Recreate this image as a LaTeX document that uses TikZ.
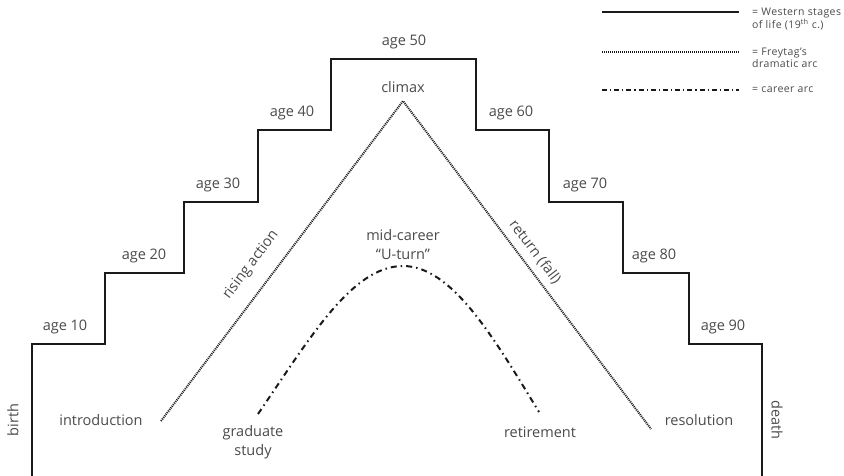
\documentclass[tikz,border=0pt]{standalone}
\usepackage{fontspec}
\setmainfont{Open Sans}
\definecolor{txt}{HTML}{4A4A4A}
\definecolor{ln}{HTML}{1A1A1A}
\tikzset{
  lbl/.style={font=\fontsize{14.5}{19}\selectfont, text=txt, inner sep=1pt},
  leg/.style={font=\fontsize{10.5}{12.5}\selectfont\addfontfeatures{LetterSpace=4}, text=txt, inner sep=0pt, anchor=west, align=left},
  stair/.style={draw=ln, line width=2.4pt, line join=miter},
  freytag/.style={draw=ln, line width=2pt, dash pattern=on 1pt off 1pt},
  career/.style={draw=ln, line width=2pt, dash pattern=on 6pt off 4pt on 1.5pt off 4pt},
}
\begin{document}
\begin{tikzpicture}[x=1pt,y=-1pt]
\useasboundingbox (0,0) rectangle (844,475);
% staircase corners
\coordinate (s0) at (32,476);
\coordinate (s1) at (32,344);
\coordinate (s2) at (105,344);
\coordinate (s3) at (105,273);
\coordinate (s4) at (184,273);
\coordinate (s5) at (184,202);
\coordinate (s6) at (258,202);
\coordinate (s7) at (258,130);
\coordinate (s8) at (331,130);
\coordinate (s9) at (331,59);
\coordinate (t9) at (476,59);
\coordinate (t8) at (476,130);
\coordinate (t7) at (549,130);
\coordinate (t6) at (549,202);
\coordinate (t5) at (623,202);
\coordinate (t4) at (623,273);
\coordinate (t3) at (689,273);
\coordinate (t2) at (689,344);
\coordinate (t1) at (762,344);
\coordinate (t0) at (762,476);
\draw[stair] (s0)--(s1)--(s2)--(s3)--(s4)--(s5)--(s6)--(s7)--(s8)--(s9)--(t9)--(t8)--(t7)--(t6)--(t5)--(t4)--(t3)--(t2)--(t1)--(t0);

% age labels
\node[lbl] (a10) at (65,327) {age 10};
\node[lbl] (a20) at (144,256) {age 20};
\node[lbl] (a30) at (218,185) {age 30};
\node[lbl] (a40) at (292,113) {age 40};
\node[lbl] (a50) at (404,42) {age 50};
\node[lbl] (a60) at (511,113) {age 60};
\node[lbl] (a70) at (585,185) {age 70};
\node[lbl] (a80) at (654,256) {age 80};
\node[lbl] (a90) at (723,327) {age 90};
\node[lbl, rotate=90] (birth) at (13,420) {birth};
\node[lbl, rotate=-90] (death) at (777,420) {death};

% Freytag arc
\coordinate (fA) at (161,421);
\coordinate (fB) at (403,101);
\coordinate (fC) at (651,429);
\draw[freytag] (fA)--(fB)--(fC);
\node[lbl] (climax) at (403,87) {climax};
\node[lbl] (intro) at (101,420) {introduction};
\node[lbl] (resol) at (699,420) {resolution};
\node[lbl, rotate=53] (rising) at (251,265) {rising action};
\node[lbl, rotate=-53] (ret) at (535,252) {return (fall)};

% career arc
\coordinate (cA) at (258,414);
\coordinate (cB) at (403,266);
\coordinate (cC) at (539,412);
\draw[career] (cA) .. controls (310,338) and (352,266) .. (cB) .. controls (452,266) and (494,338) .. (cC);
\node[lbl, align=center] (mid) at (403,245) {mid-career\\``U-turn''};
\node[lbl, align=center] (grad) at (253,442) {graduate\\study};
\node[lbl] (retire) at (540,432) {retirement};

% legend
\coordinate (l1a) at (602,12); \coordinate (l1b) at (739,12);
\coordinate (l2a) at (602,52); \coordinate (l2b) at (739,52);
\coordinate (l3a) at (602,90); \coordinate (l3b) at (739,90);
\draw[draw=ln, line width=1.6pt] (l1a)--(l1b);
\draw[draw=ln, line width=1.6pt, dash pattern=on 1pt off 1pt] (l2a)--(l2b);
\draw[draw=ln, line width=1.6pt, dash pattern=on 5pt off 3pt on 1.2pt off 3pt] (l3a)--(l3b);
\node[leg] (g1) at (752,19) {= Western stages\\of life (19\textsuperscript{th} c.)};
\node[leg] (g2) at (752,58) {= Freytag's\\dramatic arc};
\node[leg] (g3) at (752,90) {= career arc};
\end{tikzpicture}
\end{document}
